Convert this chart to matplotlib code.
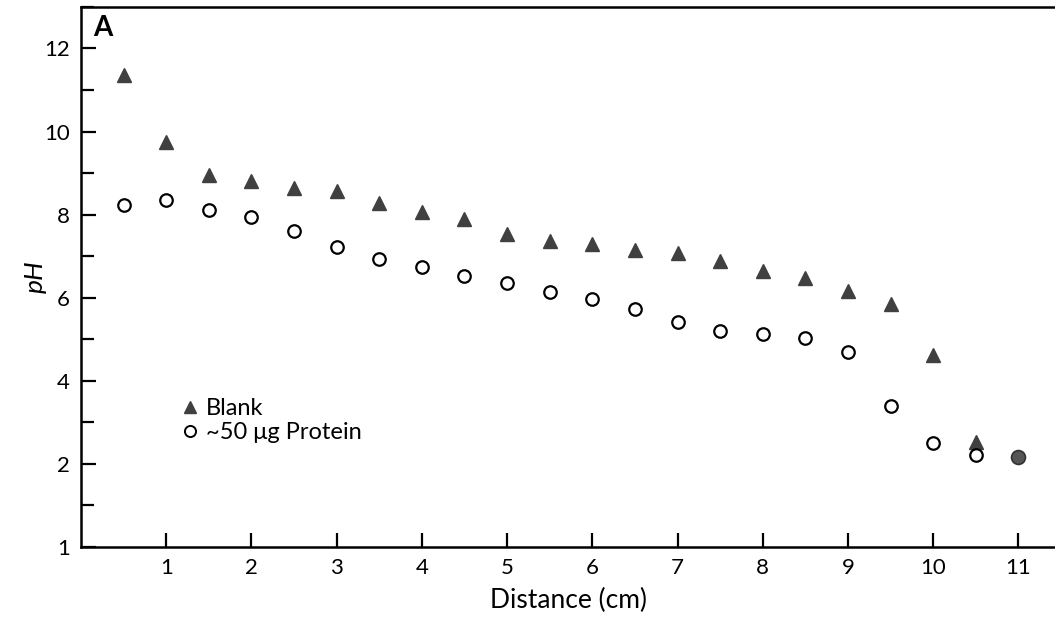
import matplotlib
matplotlib.use("Agg")
import matplotlib.pyplot as plt
from matplotlib.ticker import MultipleLocator
from matplotlib.lines import Line2D

plt.rcParams["font.family"] = ["Lato", "DejaVu Sans"]

# distance along gel (cm) and measured pH
distance = [0.5, 1, 1.5, 2, 2.5, 3, 3.5, 4, 4.5, 5, 5.5, 6, 6.5, 7, 7.5,
            8, 8.5, 9, 9.5, 10, 10.5]
blank_ph = [11.35, 9.74, 8.96, 8.8, 8.65, 8.58, 8.27, 8.07, 7.9, 7.54, 7.37,
            7.3, 7.16, 7.07, 6.88, 6.65, 6.48, 6.15, 5.84, 4.63, 2.53]
protein_ph = [8.22, 8.34, 8.12, 7.95, 7.6, 7.23, 6.94, 6.75, 6.53, 6.36, 6.14,
              5.96, 5.73, 5.42, 5.2, 5.13, 5.04, 4.7, 3.4, 2.5, 2.22]
# both samples coincide here
overlap_x = [11]
overlap_y = [2.17]

y_ticks = [0, 2, 4, 6, 8, 10, 12]
y_ticklabels = ["1", "2", "4", "6", "8", "10", "12"]
x_ticks = [1, 2, 3, 4, 5, 6, 7, 8, 9, 10, 11]

TRI = "#404040"

fig = plt.figure(figsize=(10.55, 6.24), dpi=100)
ax = fig.add_axes([0.0768, 0.1234, 0.9232, 0.8656])

ax.plot(distance, blank_ph, linestyle="none", marker="^", markersize=10,
        color=TRI, markeredgecolor=TRI)
ax.plot(distance, protein_ph, linestyle="none", marker="o", markersize=9,
        markerfacecolor="white", markeredgecolor="black", markeredgewidth=1.6)
ax.plot(overlap_x, overlap_y, linestyle="none", marker="o", markersize=10,
        markerfacecolor="#555555", markeredgecolor="#333333", markeredgewidth=1.2)

ax.set_xlim(0, 11.43)
ax.set_ylim(0, 13.0)
ax.set_xticks(x_ticks)
ax.set_yticks(y_ticks)
ax.set_yticklabels(y_ticklabels)
ax.yaxis.set_minor_locator(MultipleLocator(1))

ax.spines["right"].set_visible(False)
for s in ("left", "bottom", "top"):
    ax.spines[s].set_linewidth(1.8)

ax.tick_params(axis="x", direction="in", length=10, width=1.6, labelsize=16, pad=8)
ax.tick_params(axis="y", direction="in", length=11, width=1.6, labelsize=16, pad=8)
ax.tick_params(axis="y", which="minor", direction="in", length=9, width=1.6)

ax.set_xlabel("Distance (cm)", fontsize=19, labelpad=7)
ax.set_ylabel("pH", fontsize=19, style="italic", labelpad=-2)

ax.text(0.012, 0.985, "A", transform=ax.transAxes, fontsize=20,
        fontweight="bold", ha="left", va="top")

handles = [
    Line2D([], [], linestyle="none", marker="^", markersize=9, color=TRI),
    Line2D([], [], linestyle="none", marker="o", markersize=8,
           markerfacecolor="white", markeredgecolor="black", markeredgewidth=1.4),
]
ax.legend(handles, ["Blank", "~50 \u03bcg Protein"], loc="upper left",
          bbox_to_anchor=(0.092, 0.293), frameon=False, fontsize=17,
          handlelength=0.8, handletextpad=0.3, labelspacing=0.12,
          borderaxespad=0)

fig.savefig("out.png", dpi=100)
